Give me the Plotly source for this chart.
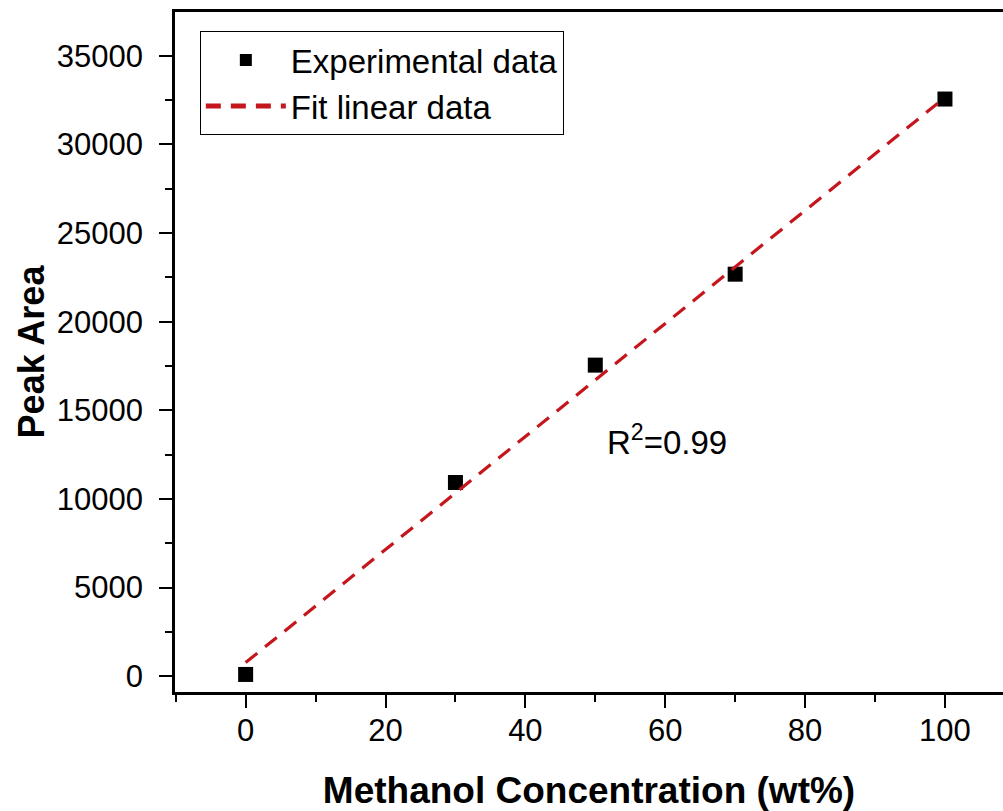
import plotly.graph_objects as go

# Data
conc = [0, 30, 50, 70, 100]
peak_area = [100, 10930, 17550, 22680, 32560]
fit_x = [0, 100]
fit_y = [770, 32650]
y_ticks = [0, 5000, 10000, 15000, 20000, 25000, 30000, 35000]
x_ticks = [0, 20, 40, 60, 80, 100]

FONT = "Liberation Sans, Arial, sans-serif"

fig = go.Figure()
fig.add_trace(go.Scatter(
    x=conc, y=peak_area, mode="markers", name="Experimental data",
    marker=dict(symbol="square", size=15, color="black"),
))
fig.add_trace(go.Scatter(
    x=fit_x, y=fit_y, mode="lines", name="Fit linear data",
    line=dict(color="#c4161c", width=3.2, dash="15px,10px"),
))

fig.add_annotation(
    x=60.3, y=13340, xref="x", yref="y", showarrow=False,
    text="R<sup>2</sup>=0.99", font=dict(family=FONT, size=33, color="black"),
)

fig.update_layout(
    width=1003, height=811,
    margin=dict(l=175, r=0, t=12, b=119),
    paper_bgcolor="white", plot_bgcolor="white",
    showlegend=True,
    legend=dict(
        x=0.030, y=0.972, xanchor="left", yanchor="top",
        bordercolor="black", borderwidth=1, bgcolor="rgba(255,255,255,0)",
        font=dict(family=FONT, size=33, color="black"),
        tracegroupgap=0, itemsizing="constant", itemwidth=80,
    ),
)

fig.update_xaxes(
    range=[-10.1, 108.3], tickvals=x_ticks, ticktext=[str(v) for v in x_ticks],
    showgrid=False, zeroline=False,
    showline=True, linecolor="black", linewidth=2.5, mirror=True,
    ticks="outside", ticklen=13, tickwidth=2, tickcolor="black",
    minor=dict(dtick=10, tick0=0, ticks="outside", ticklen=7, tickwidth=2, tickcolor="black"),
    tickfont=dict(family=FONT, size=31, color="black"),
    ticklabelstandoff=-4,
    title=dict(text="<b>Methanol Concentration (wt%)</b>", font=dict(family=FONT, size=37, color="black"), standoff=31),
)
fig.update_yaxes(
    range=[-890, 37470], tickvals=y_ticks, ticktext=[str(v) for v in y_ticks],
    showgrid=False, zeroline=False,
    showline=True, linecolor="black", linewidth=2.5, mirror=False,
    ticks="outside", ticklen=13, tickwidth=2, tickcolor="black",
    minor=dict(dtick=2500, tick0=0, ticks="outside", ticklen=7, tickwidth=2, tickcolor="black"),
    tickfont=dict(family=FONT, size=31, color="black"),
    ticklabelstandoff=10,
    title=dict(text="<b>Peak Area</b>", font=dict(family=FONT, size=36, color="black"), standoff=2),
)

fig.write_html(
    "out.html",
    config={"displayModeBar": False},
    post_script="document.body.style.margin='0';document.body.style.overflow='hidden';",
)
